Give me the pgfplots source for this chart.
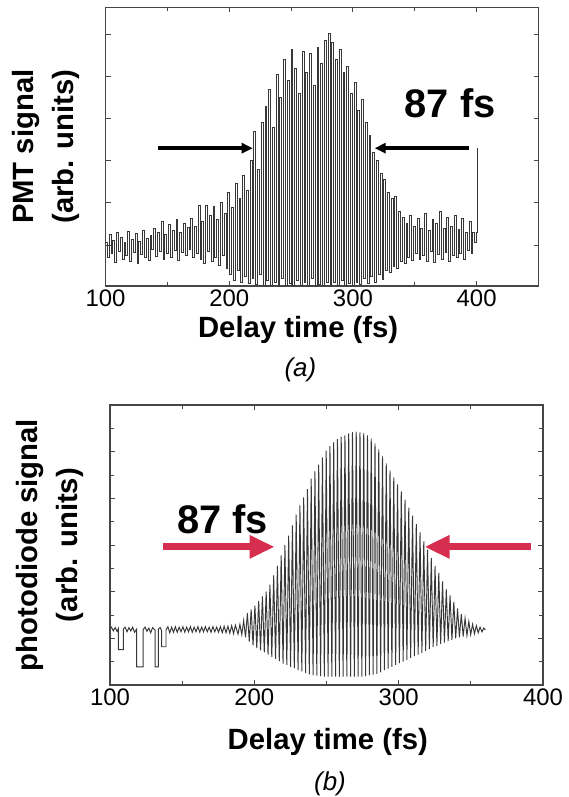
\documentclass[border=0pt]{standalone}
\usepackage{fontspec}
\setmainfont{Liberation Sans}
\usepackage{pgfplots}
\pgfplotsset{compat=1.18}
\usetikzlibrary{arrows.meta}

\definecolor{arrowred}{RGB}{214,46,78}
\definecolor{trace}{RGB}{55,55,55}
\definecolor{frame}{RGB}{70,70,70}

\pgfplotsset{
  panel/.style={
    scale only axis,
    clip=false,
    width=433bp,
    axis line style={frame, line width=1.1bp},
    every tick/.style={frame, line width=0.9bp},
    tick align=inside,
    tick pos=both,
    major tick length=5bp,
    minor tick length=4bp,
    xtick={100,200,300,400},
    yticklabel=\empty,
    /pgf/number format/assume math mode=true,
    xticklabel style={font=\fontsize{24}{24}\selectfont},
    ylabel style={at={(axis description cs:-0.138,0.5)}, anchor=center, align=center,
      font=\fontsize{29.4}{40}\selectfont\bfseries},
    xlabel style={anchor=base, font=\fontsize{29.4}{36}\selectfont\bfseries},
  },
}

\begin{document}
\begin{tikzpicture}
\path[use as bounding box] (0,0) rectangle (569bp,-797bp);

% (a) PMT signal
\begin{axis}[panel,
  at={(105.5bp,-286bp)}, anchor=south west,
  height=278.7bp,
  xmin=100, xmax=450, ymin=-0.974, ymax=5.646,
  minor xtick={150,250,350,450},
  ytick={0,1,2,3,4,5},
  xlabel={Delay time (fs)},
  xlabel style={at={(axis description cs:0.445,-0.183)}},
  ylabel={PMT signal\\(arb. units)},
]
\addplot[const plot, color=trace, line width=1bp] coordinates {
(100,0.05)(101.5,-0.30)(103,0.25)(104.5,-0.20)(106,0.10)(107.5,-0.42)(109,0.30)(110.5,-0.15)
(112,0.18)(113.5,-0.35)(115,0.05)(116.5,-0.25)(118,0.32)(119.5,-0.40)(121,0.12)(122.5,-0.18)
(124,0.28)(125.5,-0.45)(127,0.08)(128.5,-0.22)(130,0.35)(131.5,-0.30)(133,0.15)(134.5,-0.38)
(136,0.22)(137.5,-0.10)(139,0.40)(140.5,-0.28)(142,0.30)(143.5,-0.15)(145,0.55)(146.5,-0.35)
(148,0.25)(149.5,-0.20)(151,0.48)(152.5,-0.30)(154,0.35)(155.5,-0.12)(157,0.60)(158.5,-0.38)
(160,0.30)(161.5,-0.18)(163,0.52)(164.5,-0.25)(166,0.42)(167.5,-0.10)(169,0.62)(170.5,-0.30)
(172,0.45)(173.5,-0.20)(175,0.95)(176.5,-0.35)(178,0.55)(179.5,-0.45)(181,0.95)(182.5,-0.15)
(184,0.70)(185.5,-0.40)(187,0.92)(188.5,-0.30)(190,0.60)(191.5,-0.48)(193,1.00)(194.5,-0.25)
(196,0.75)(197.5,-0.55)(199,1.25)(200.5,-0.70)(202,0.90)(203.5,-0.85)(205,1.45)(206.5,-0.60)
(208,1.10)(209.5,-0.90)(211,1.65)(212.5,-0.75)(214,1.30)(215.5,-0.92)(217,2.00)(218.5,-0.80)
(220,2.70)(221.5,-0.95)(223,1.80)(224.5,-0.70)(226,2.90)(227.5,-0.96)(229,3.30)(230.5,-0.85)
(232,3.70)(233.5,-0.96)(235,2.80)(236.5,-0.90)(238,4.05)(239.5,-0.96)(241,3.50)(242.5,-0.80)
(244,4.40)(245.5,-0.96)(247,3.90)(248.5,-0.92)(250,4.65)(251.5,-0.96)(253,4.20)(254.5,-0.85)
(256,3.60)(257.5,-0.96)(259,4.60)(260.5,-0.90)(262,4.10)(263.5,-0.96)(265,4.55)(266.5,-0.80)
(268,3.80)(269.5,-0.96)(271,4.70)(272.5,-0.93)(274,4.30)(275.5,-0.96)(277,4.85)(278.5,-0.88)
(280,5.02)(281.5,-0.96)(283,4.80)(284.5,-0.90)(286,4.40)(287.5,-0.96)(289,4.65)(290.5,-0.85)
(292,4.10)(293.5,-0.96)(295,4.25)(296.5,-0.92)(298,3.60)(299.5,-0.96)(301,3.85)(302.5,-0.88)
(304,3.20)(305.5,-0.95)(307,3.45)(308.5,-0.80)(310,2.90)(311.5,-0.92)(313,2.60)(314.5,-0.75)
(316,2.20)(317.5,-0.88)(319,2.00)(320.5,-0.70)(322,1.70)(323.5,-0.82)(325,1.55)(326.5,-0.60)
(328,1.25)(329.5,-0.65)(331,1.10)(332.5,-0.50)(334,1.15)(335.5,-0.55)(337,0.80)(338.5,-0.40)
(340,0.65)(341.5,-0.45)(343,0.50)(344.5,-0.30)(346,0.70)(347.5,-0.38)(349,0.45)(350.5,-0.20)
(352,0.62)(353.5,-0.35)(355,0.40)(356.5,-0.25)(358,0.75)(359.5,-0.40)(361,0.35)(362.5,-0.15)
(364,0.60)(365.5,-0.42)(367,0.50)(368.5,-0.22)(370,0.80)(371.5,-0.35)(373,0.40)(374.5,-0.18)
(376,0.65)(377.5,-0.40)(379,0.45)(380.5,-0.25)(382,0.70)(383.5,-0.30)(385,0.38)(386.5,-0.20)
(388,0.62)(389.5,-0.35)(391,0.30)(392.5,-0.12)(394,0.55)(395.5,-0.20)(397,0.30)(398.5,0.05)
(400,0.30)(401,2.30)
};
\draw[-{Triangle[length=11bp,width=10bp]}, line width=3.5bp] (142.6,2.3) -- (219,2.3);
\draw[-{Triangle[length=11bp,width=10bp]}, line width=3.5bp] (393.5,2.3) -- (317.6,2.3);
\node[anchor=base east, inner sep=0pt, font=\fontsize{40}{40}\selectfont\bfseries] at (415.5,3.02) {87 fs};
\node[anchor=base, font=\fontsize{26}{26}\selectfont\itshape] at (rel axis cs:0.45,-0.323) {(a)};
\end{axis}

% (b) photodiode signal
\begin{axis}[panel,
  at={(110bp,-685bp)}, anchor=south west,
  height=280bp,
  xmin=100, xmax=400, ymin=-1, ymax=5,
  minor xtick={150,250,350},
  ytick={0,1,2,3,4},
  minor ytick={-0.5,0.5,1.5,2.5,3.5,4.5},
  xlabel={Delay time (fs)},
  xlabel style={at={(axis description cs:0.503,-0.232)}},
  ylabel={photodiode signal\\(arb. units)},
]
\addplot[color=trace, line width=0.95bp] coordinates {
(100,0.20)(101,0.24)(102.3,0.16)(103.6,0.23)(104.9,0.15)(105.8,0.21)(105.8,-0.24)(109.2,-0.24)
(109.2,0.20)(110.5,0.24)(111.8,0.14)(113.1,0.23)(114.4,0.16)(115.7,0.24)(117,0.13)(118.5,0.20)
(118.5,-0.61)(123,-0.61)(123,0.19)(124.3,0.24)(125.6,0.15)(126.9,0.22)(128.2,0.12)(129.5,0.23)
(131.2,0.18)(131.2,-0.61)(133.5,-0.61)(133.5,0.20)(134.8,0.23)(135.8,0.16)(135.8,-0.18)(138.8,-0.18)
(138.8,0.18)(140.1,0.25)(141.4,0.12)(142.7,0.24)(144,0.13)(145.3,0.25)(146.6,0.13)(147.9,0.24)
(149.2,0.14)(150.5,0.25)(151.8,0.13)(153.1,0.24)(154.4,0.14)(155.7,0.25)(157,0.13)(158.3,0.24)
(159.6,0.14)(160.9,0.25)(162.2,0.13)(163.5,0.24)(164.8,0.14)(166.1,0.25)(167.4,0.14)(168.7,0.24)
(170,0.13)(171.3,0.25)(172.6,0.14)(173.9,0.24)(175.2,0.13)(176.5,0.25)(177.8,0.12)(179.1,0.26)
(180.4,0.12)(181.7,0.26)(183,0.11)(184.3,0.27)(185.6,0.10)(186.9,0.28)(188.7,0.09)
(190.0,0.30)(191.3,0.08)(192.6,0.38)(193.9,0.02)(195.2,0.54)(196.5,-0.07)(197.8,0.62)(199.1,-0.15)
(200.4,0.70)(201.7,-0.21)(203.0,0.80)(204.3,-0.26)(205.6,0.90)(206.9,-0.30)(208.2,1.00)(209.5,-0.35)
(210.8,1.15)(212.1,-0.40)(213.4,1.35)(214.7,-0.44)(216.0,1.55)(217.3,-0.49)(218.6,1.78)(219.9,-0.54)
(221.2,2.00)(222.5,-0.57)(223.8,2.20)(225.1,-0.61)(226.4,2.42)(227.7,-0.64)(229.0,2.65)(230.3,-0.68)
(231.6,2.85)(232.9,-0.71)(234.2,3.02)(235.5,-0.74)(236.8,3.20)(238.1,-0.77)(239.4,3.42)(240.7,-0.79)
(242.0,3.58)(243.3,-0.80)(244.6,3.72)(245.9,-0.81)(247.2,3.88)(248.5,-0.82)(249.8,4.02)(251.1,-0.82)
(252.4,4.12)(253.7,-0.82)(255.0,4.20)(256.3,-0.82)(257.6,4.27)(258.9,-0.82)(260.2,4.32)(261.5,-0.82)
(262.8,4.35)(264.1,-0.82)(265.4,4.39)(266.7,-0.82)(268.0,4.42)(269.3,-0.82)(270.6,4.43)(271.9,-0.82)
(273.2,4.42)(274.5,-0.82)(275.8,4.40)(277.1,-0.81)(278.4,4.35)(279.7,-0.79)(281.0,4.28)(282.3,-0.78)
(283.6,4.18)(284.9,-0.76)(286.2,4.05)(287.5,-0.73)(288.8,3.90)(290.1,-0.68)(291.4,3.75)(292.7,-0.65)
(294.0,3.60)(295.3,-0.61)(296.6,3.45)(297.9,-0.57)(299.2,3.30)(300.5,-0.53)(301.8,3.15)(303.1,-0.50)
(304.4,2.97)(305.7,-0.46)(307.0,2.80)(308.3,-0.42)(309.6,2.63)(310.9,-0.38)(312.2,2.45)(313.5,-0.35)
(314.8,2.27)(316.1,-0.31)(317.4,2.08)(318.7,-0.27)(320.0,1.90)(321.3,-0.23)(322.6,1.72)(323.9,-0.19)
(325.2,1.55)(326.5,-0.16)(327.8,1.40)(329.1,-0.12)(330.4,1.22)(331.7,-0.09)(333.0,1.05)(334.3,-0.06)
(335.6,0.92)(336.9,-0.03)(338.2,0.78)(339.5,0.00)(340.8,0.64)(342.1,0.02)(343.4,0.52)(344.7,0.04)
(346.0,0.43)(347.3,0.06)(348.6,0.36)(349.9,0.08)(351.2,0.30)(352.5,0.10)(353.8,0.27)(355.1,0.12)
(356.4,0.24)(357.7,0.14)(359.0,0.22)(360.0,0.18)
};
\draw[arrowred, line width=7bp, -{Triangle[length=25bp,width=22bp]}] (136.5,1.96) -- (214,1.96);
\draw[arrowred, line width=7bp, -{Triangle[length=25bp,width=22bp]}] (392,1.96) -- (318,1.96);
\node[anchor=base west, inner sep=0pt, font=\fontsize{40}{40}\selectfont\bfseries] at (146.4,2.25) {87 fs};
\node[anchor=base, font=\fontsize{26}{26}\selectfont\itshape] at (rel axis cs:0.508,-0.375) {(b)};
\end{axis}
\end{tikzpicture}
\end{document}
